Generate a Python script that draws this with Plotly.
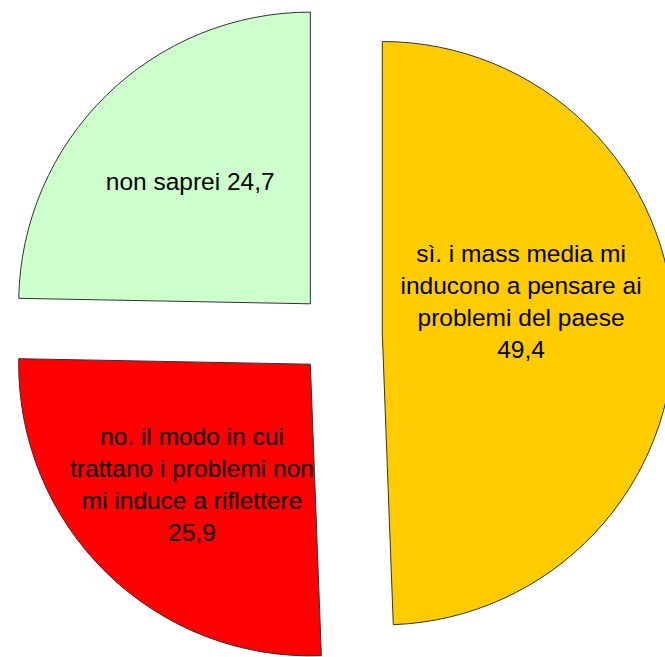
import plotly.graph_objects as go

labels = [
    "sì. i mass media mi<br>inducono a pensare ai<br>problemi del paese",
    "no. il modo in cui<br>trattano i problemi non<br>mi induce a riflettere",
    "non saprei",
]
values = [49.4, 25.9, 24.7]
colors = ["#FFCC00", "#FF0000", "#CCFFCC"]
separators = ["<br>", "<br>", " "]
# invisible trailing lines lift the long label slightly, as in the original
trailers = ["<br>\u00a0<br>\u00a0", "", ""]

texts = [f"{lab}{sep}" + f"{v:.1f}".replace(".", ",") + tr
         for lab, sep, v, tr in zip(labels, separators, values, trailers)]

FONT_SIZE = 24.5

fig = go.Figure(
    go.Pie(
        labels=[l.replace("<br>", " ") for l in labels],
        values=values,
        text=texts,
        textinfo="text",
        textposition="inside",
        insidetextorientation="horizontal",
        sort=False,
        direction="clockwise",
        rotation=0,
        pull=[0.145, 0.145, 0.145],
        marker=dict(colors=colors, line=dict(color="#333333", width=1)),
        textfont=dict(family="Liberation Sans, Arial, sans-serif", size=FONT_SIZE, color="black"),
        domain=dict(x=[0.0, 1.0], y=[0.0, 1.0]),
        hoverinfo="label+value",
    )
)

fig.update_layout(
    width=680,
    height=668,
    margin=dict(l=0, r=0, t=0, b=0),
    paper_bgcolor="white",
    plot_bgcolor="white",
    showlegend=False,
    uniformtext=dict(minsize=FONT_SIZE, mode="show"),
)

fig.write_html(
    "out.html",
    config={"displayModeBar": False},
    post_script="document.body.style.margin='0';document.body.style.overflow='hidden';",
)
